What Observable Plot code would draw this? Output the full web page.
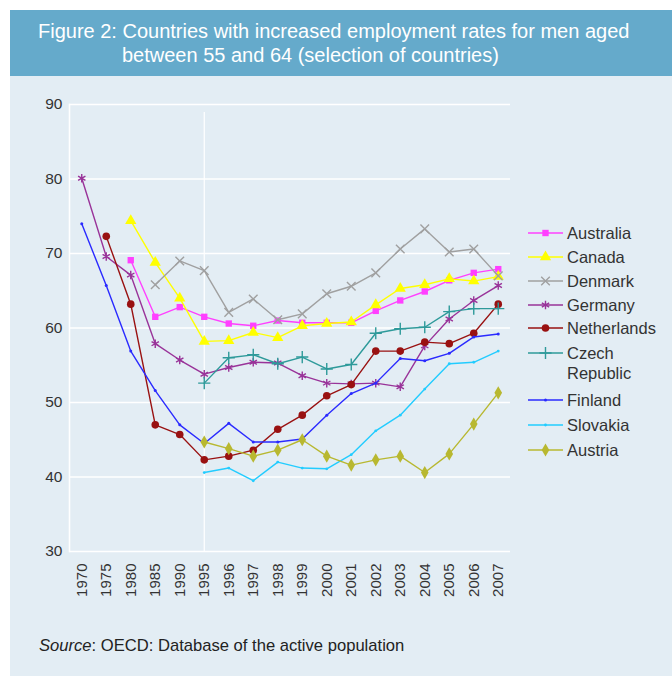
<!DOCTYPE html>
<html><head><meta charset="utf-8">
<script src="https://cdn.jsdelivr.net/npm/d3@7"></script>
<script src="https://cdn.jsdelivr.net/npm/@observablehq/plot@0.6"></script>
<style>
body{margin:0;background:#fff;font-family:"Liberation Sans",Arial,sans-serif;}
#page{position:relative;width:672px;height:677px;overflow:hidden;}
#panel{position:absolute;left:10px;top:10px;width:662px;height:666px;background:#e3edf4;}
#header{position:absolute;left:10px;top:10px;width:662px;height:66px;background:#65aacb;}
.t{position:absolute;color:#fff;font-size:20px;white-space:nowrap;line-height:24px;}
#chart{position:absolute;left:0;top:77px;}
#legend{position:absolute;left:0;top:0;}
#source{position:absolute;left:39px;top:636px;font-size:16.6px;color:#222;white-space:nowrap;}
</style></head><body>
<div id="page">
<div id="panel"></div>
<div id="header"></div>
<div class="t" style="left:38px;top:19px">Figure 2: Countries with increased employment rates for men aged</div>
<div class="t" style="left:122px;top:43px">between 55 and 64 (selection of countries)</div>
<div id="chart"></div>
<svg id="legend" width="672" height="677"></svg>
<div id="source"><i>Source</i>: OECD: Database of the active population</div>
</div>
<script>
const years = ["1970","1975","1980","1985","1990","1995","1996","1997","1998","1999","2000","2001","2002","2003","2004","2005","2006","2007"];
const yTicks = [30,40,50,60,70,80,90];
const countries = ["Australia","Canada","Denmark","Germany","Netherlands","Czech Republic","Finland","Slovakia","Austria"];
const australia   = [null,null,69.1,61.5,62.8,61.5,60.6,60.3,61.0,60.7,60.7,60.7,62.3,63.7,64.9,66.4,67.4,67.9];
const canada      = [null,null,74.4,68.8,64.0,58.2,58.3,59.4,58.7,60.3,60.6,60.8,63.1,65.3,65.8,66.6,66.3,66.9];
const denmark     = [null,null,null,65.8,69.0,67.7,62.1,63.9,61.1,61.9,64.6,65.6,67.4,70.6,73.3,70.2,70.6,67.0];
const germany     = [80.1,69.6,67.1,57.9,55.7,53.8,54.7,55.4,55.3,53.6,52.6,52.5,52.6,52.1,57.6,61.2,63.7,65.7];
const netherlands = [null,72.3,63.2,47.0,45.7,42.3,42.8,43.6,46.4,48.3,50.9,52.4,56.9,56.9,58.1,57.9,59.3,63.2];
const czech       = [null,null,null,null,null,52.6,56.0,56.4,55.2,56.1,54.5,55.1,59.3,59.9,60.1,62.2,62.6,62.6];
const finland     = [74.0,65.7,56.9,51.6,47.0,44.5,47.2,44.7,44.7,45.1,48.3,51.2,52.6,55.9,55.6,56.6,58.8,59.2];
const slovakia    = [null,null,null,null,null,40.6,41.2,39.5,42.0,41.2,41.1,43.0,46.2,48.3,51.8,55.2,55.4,56.9];
const austria     = [null,null,null,null,null,44.7,43.8,42.8,43.6,45.0,42.8,41.6,42.3,42.8,40.6,43.1,47.1,51.3];
const seriesValues = [australia,canada,denmark,germany,netherlands,czech,finland,slovakia,austria];

const styles = [
  {color:"#ff40ff", symbol:"square", filled:true, r:3.6},
  {color:"#ffff00", symbol:"triangle", filled:true, r:4.2},
  {color:"#a0a0a0", symbol:"times", filled:false, r:4},
  {color:"#993399", symbol:"asterisk", filled:false, r:4},
  {color:"#991111", symbol:"circle", filled:true, r:3.8},
  {color:"#2e9a9a", symbol:"plus", filled:false, r:4},
  {color:"#2a2aff", symbol:"circle", filled:true, r:1.5},
  {color:"#22ccff", symbol:"circle", filled:true, r:1.4},
  {color:"#b8b830", symbol:"diamond", filled:true, r:4}
];

const marks = [
  Plot.gridY(yTicks, {stroke:"white", strokeOpacity:1, strokeWidth:1.6}),
  Plot.ruleX(["1995"], {stroke:"white", strokeWidth:1.2, y1:30, y2:90, insetBottom:-8}),
  Plot.frame({anchor:"left", stroke:"white", strokeWidth:1.6, strokeOpacity:1}),
  Plot.axisY({ticks:yTicks, tickSize:0, tickPadding:7, fontSize:15.5, fill:"#333", label:null}),
  Plot.axisX({tickSize:0, tickRotate:-90, tickPadding:12, fontSize:15, fill:"#333", label:null})
];
countries.forEach((c, k) => {
  const rows = years.map((y, i) => ({year:y, v:seriesValues[k][i]})).filter(d => d.v != null);
  const s = styles[k];
  marks.push(Plot.line(rows, {x:"year", y:"v", stroke:s.color, strokeWidth:1.4}));
  marks.push(Plot.dot(rows, s.filled
    ? {x:"year", y:"v", symbol:s.symbol, r:s.r, fill:s.color, stroke:"none"}
    : {x:"year", y:"v", symbol:s.symbol, r:s.r, stroke:s.color, strokeWidth:1.4, fill:"none"}));
});

const chart = Plot.plot({
  width:672, height:540,
  marginLeft:69, marginRight:162, marginTop:27, marginBottom:66,
  style:{background:"transparent", fontFamily:"Liberation Sans, Arial, sans-serif", fontSize:"15px"},
  x:{type:"point", domain:years, padding:0.5, round:false},
  y:{domain:[30,90]},
  marks
});
document.getElementById("chart").appendChild(chart);

// legend
const symMap = {square:d3.symbolSquare, triangle:d3.symbolTriangle, times:d3.symbolTimes, asterisk:d3.symbolAsterisk, circle:d3.symbolCircle, plus:d3.symbolPlus, diamond:d3.symbolDiamond};
const legendY = [233,257,281,305,328,353,400,425,450];
const lg = d3.select("#legend");
countries.forEach((c, k) => {
  const s = styles[k], y = legendY[k];
  const g = lg.append("g");
  g.append("line").attr("x1",528).attr("x2",563).attr("y1",y).attr("y2",y).attr("stroke",s.color).attr("stroke-width",1.6);
  g.append("path").attr("transform",`translate(545.5,${y})`)
    .attr("d", d3.symbol(symMap[s.symbol], Math.PI*s.r*s.r)())
    .attr("fill", s.filled ? s.color : "none").attr("stroke", s.filled ? "none" : s.color).attr("stroke-width",1.4);
  const lines = c === "Czech Republic" ? ["Czech","Republic"] : [c];
  lines.forEach((t, j) => {
    g.append("text").attr("x",567).attr("y",y + j*20).attr("dy","0.36em")
      .attr("font-size",16.5).attr("fill","#333").attr("font-family","Liberation Sans, Arial, sans-serif").text(t);
  });
});
</script>
</body></html>
